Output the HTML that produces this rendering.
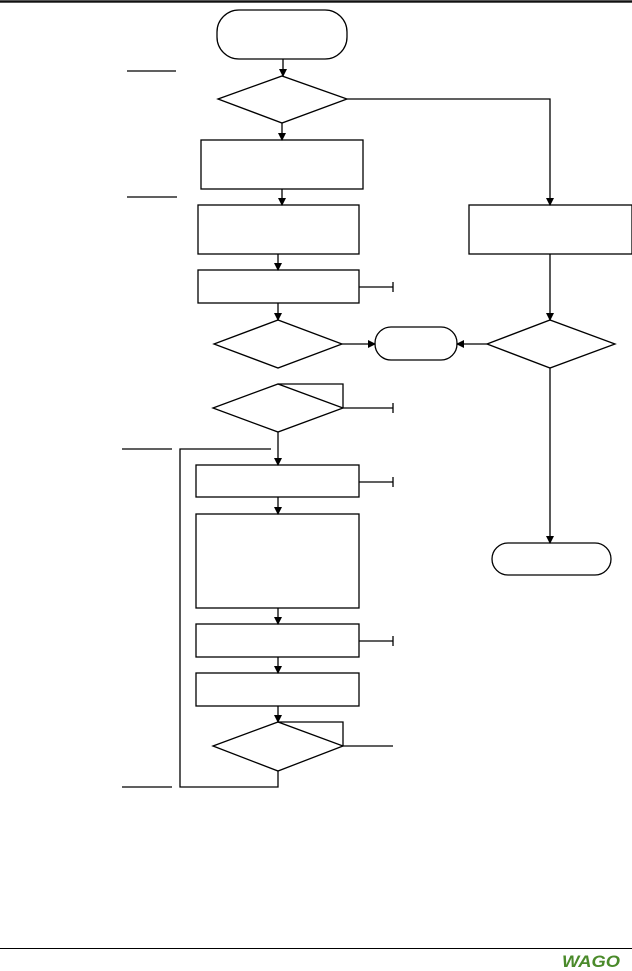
<!DOCTYPE html>
<html><head><meta charset="utf-8"><style>
html,body{margin:0;padding:0;background:#fff;width:632px;height:971px;overflow:hidden}
svg{display:block}
</style></head><body>
<svg width="632" height="971" viewBox="0 0 632 971" xmlns="http://www.w3.org/2000/svg">
<defs>
<marker id="a" markerWidth="8" markerHeight="8" refX="7" refY="4" orient="auto" markerUnits="userSpaceOnUse">
<path d="M0,0 L8,4 L0,8 z" fill="#000"/></marker>
</defs>
<rect x="0" y="0" width="632" height="3" fill="#555"/>
<rect x="0" y="1" width="632" height="1" fill="#111"/>
<g fill="none" stroke="#000" stroke-width="1.3">
<rect x="217" y="10" width="130" height="49" rx="22"/>
<rect x="375" y="327" width="82" height="33" rx="16"/>
<rect x="492" y="543" width="119" height="32" rx="16"/>
<line x1="127" y1="71" x2="176" y2="71"/>
<line x1="127" y1="197" x2="177" y2="197"/>
<line x1="122" y1="449" x2="172" y2="449"/>
<line x1="122" y1="787" x2="172" y2="787"/>
<polygon points="218,99 282,76 347,99 282,123"/>
<polygon points="214,344 278,320 342,344 278,368"/>
<polygon points="487,344 550,320 615,344 550,368"/>
<polygon points="213,408 278,384 343,408 278,432"/>
<polygon points="213,746 278,722 343,746 278,771"/>
<rect x="201" y="140" width="162" height="49"/>
<rect x="198" y="205" width="161" height="49"/>
<rect x="198" y="270" width="161" height="33"/>
<rect x="469" y="205" width="163" height="49"/>
<rect x="196" y="465" width="163" height="32"/>
<rect x="196" y="514" width="163" height="94"/>
<rect x="196" y="624" width="163" height="33"/>
<rect x="196" y="673" width="163" height="33"/>
<line x1="283" y1="59" x2="283" y2="76" marker-end="url(#a)"/>
<line x1="282" y1="123" x2="282" y2="140" marker-end="url(#a)"/>
<line x1="282" y1="189" x2="282" y2="205" marker-end="url(#a)"/>
<line x1="278" y1="254" x2="278" y2="270" marker-end="url(#a)"/>
<line x1="278" y1="303" x2="278" y2="320" marker-end="url(#a)"/>
<line x1="342" y1="344" x2="375" y2="344" marker-end="url(#a)"/>
<line x1="487" y1="344" x2="457" y2="344" marker-end="url(#a)"/>
<polyline points="347,99 550,99 550,205" marker-end="url(#a)"/>
<line x1="550" y1="254" x2="550" y2="320" marker-end="url(#a)"/>
<line x1="550" y1="368" x2="550" y2="543" marker-end="url(#a)"/>
<line x1="278" y1="432" x2="278" y2="465" marker-end="url(#a)"/>
<line x1="278" y1="497" x2="278" y2="514" marker-end="url(#a)"/>
<line x1="278" y1="608" x2="278" y2="624" marker-end="url(#a)"/>
<line x1="278" y1="657" x2="278" y2="673" marker-end="url(#a)"/>
<line x1="278" y1="706" x2="278" y2="722" marker-end="url(#a)"/>
<polyline points="278,384 343,384 343,408"/>
<polyline points="278,722 343,722 343,746"/>
<polyline points="271,449 180,449 180,787 278,787 278,771"/>
<line x1="359" y1="287" x2="393" y2="287"/><line x1="393" y1="282" x2="393" y2="292"/>
<line x1="343" y1="408" x2="393" y2="408"/><line x1="393" y1="403" x2="393" y2="413"/>
<line x1="359" y1="482" x2="393" y2="482"/><line x1="393" y1="477" x2="393" y2="487"/>
<line x1="359" y1="641" x2="393" y2="641"/><line x1="393" y1="636" x2="393" y2="646"/>
<line x1="343" y1="746" x2="393" y2="746"/>
</g>
<rect x="0" y="948" width="632" height="1" fill="#000"/>
<text x="562" y="967" font-family="Liberation Sans, sans-serif" font-weight="bold" font-style="italic" font-size="17" fill="#4a8a2a" textLength="58" lengthAdjust="spacingAndGlyphs">WAGO</text>
</svg>
</body></html>
